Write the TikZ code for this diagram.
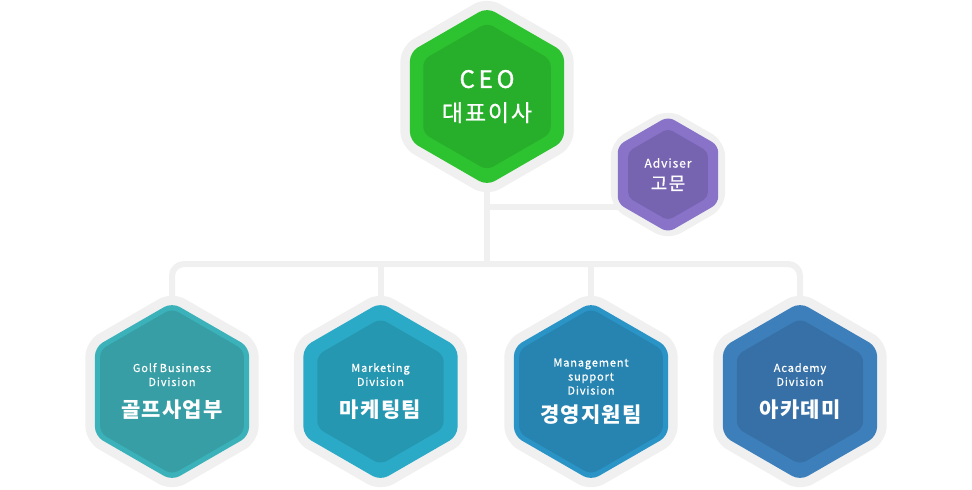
\documentclass[tikz,border=0pt]{standalone}
\usepackage{fontspec}
\newfontfamily\krfont{Noto Sans CJK KR}[LetterSpace=6]
\newfontfamily\krmfont{Noto Sans CJK KR}[LetterSpace=8, FakeBold=0.8]
\newfontfamily\ceofont{Noto Sans CJK KR}[LetterSpace=16, FakeBold=1.5]
\newfontfamily\enfont{Noto Sans CJK KR}[LetterSpace=8, FakeBold=0.8]
\usetikzlibrary{positioning, shapes.geometric, backgrounds}

\definecolor{halo}{HTML}{F0F0F0}
\definecolor{ceoout}{HTML}{2DC22F}
\definecolor{ceoin}{HTML}{27AE2A}
\definecolor{advout}{HTML}{8873C9}
\definecolor{advin}{HTML}{7664B1}
\definecolor{golfout}{HTML}{3BB1B9}
\definecolor{golfin}{HTML}{369EA4}
\definecolor{mktout}{HTML}{2AAAC7}
\definecolor{mktin}{HTML}{2697B1}
\definecolor{mgmtout}{HTML}{2A94C6}
\definecolor{mgmtin}{HTML}{2784B1}
\definecolor{acadout}{HTML}{3C7FBB}
\definecolor{acadin}{HTML}{3770A6}

\begin{document}
\begin{tikzpicture}
    [x=1pt, y=-1pt,
     hexa/.style={regular polygon, regular polygon sides=6, shape border rotate=30, inner sep=0pt},
     hexhalo/.style={hexa, fill=halo, rounded corners=15pt, minimum size=200pt},
     hexbody/.style={hexa, rounded corners=9pt, minimum size=178pt},
     hexcore/.style={hexa, rounded corners=7pt, minimum size=146pt, text=white, align=center},
     divtext/.style={font=\enfont\fontsize{11}{14}\selectfont},
     link/.style={draw=halo, line width=6pt}]
    \useasboundingbox (0,0) rectangle (972,490);

    % top
    \node[hexhalo] (ceo-h) at (487,96.5) {};
    \node[hexbody, fill=ceoout] (ceo) at (487,96.5) {};
    \node[hexcore, fill=ceoin] (ceo-c) at (487,96.5)
        {{\ceofont\fontsize{24}{28}\selectfont CEO}\\[13pt]{\krmfont\fontsize{23}{28}\selectfont 대표이사}};

    \node[hexhalo, minimum size=132pt] (adv-h) at (668,174.5) {};
    \node[hexbody, fill=advout, minimum size=116pt, rounded corners=7pt] (adv) at (668,174.5) {};
    \node[hexcore, fill=advin, minimum size=92pt, rounded corners=5pt] (adv-c) at (668,174.5)
        {{\enfont\fontsize{12}{14}\selectfont Adviser}\\[7pt]{\krmfont\fontsize{18}{20}\selectfont 고문}};

    % divisions
    \node[hexhalo] (golf-h) at (172,391.5) {};
    \node[hexbody, fill=golfout] (golf) at (172,391.5) {};
    \node[hexcore, fill=golfin, divtext] (golf-c) at (172,391.5)
        {Golf Business\\Division\\[13pt]{\krfont\bfseries\fontsize{21}{22}\selectfont 골프사업부}};

    \node[hexhalo] (mkt-h) at (380.5,391.5) {};
    \node[hexbody, fill=mktout] (mkt) at (380.5,391.5) {};
    \node[hexcore, fill=mktin, divtext] (mkt-c) at (380.5,391.5)
        {Marketing\\Division\\[13pt]{\krfont\bfseries\fontsize{21}{22}\selectfont 마케팅팀}};

    \node[hexhalo] (mgmt-h) at (591,391.5) {};
    \node[hexbody, fill=mgmtout] (mgmt) at (591,391.5) {};
    \node[hexcore, fill=mgmtin, divtext] (mgmt-c) at (591,391.5)
        {Management\\support\\Division\\[9pt]{\krfont\bfseries\fontsize{21}{22}\selectfont 경영지원팀}};

    \node[hexhalo] (acad-h) at (800,391.5) {};
    \node[hexbody, fill=acadout] (acad) at (800,391.5) {};
    \node[hexcore, fill=acadin, divtext] (acad-c) at (800,391.5)
        {Academy\\Division\\[13pt]{\krfont\bfseries\fontsize{21}{22}\selectfont 아카데미}};

    % connectors
    \begin{scope}[on background layer]
        \fill[white] (0,0) rectangle (972,490);
        \coordinate (bus) at (487,264);
        \coordinate (advj) at (487,207);
        \draw[link] (ceo.center) -- (bus);
        \draw[link] (advj) -- (adv.center |- advj);
        \draw[link, rounded corners=12pt] (golf.center) |- (bus) -| (acad.center);
        \draw[link] (mkt.center) -- (mkt.center |- bus);
        \draw[link] (mgmt.center) -- (mgmt.center |- bus);
    \end{scope}
\end{tikzpicture}
\end{document}
